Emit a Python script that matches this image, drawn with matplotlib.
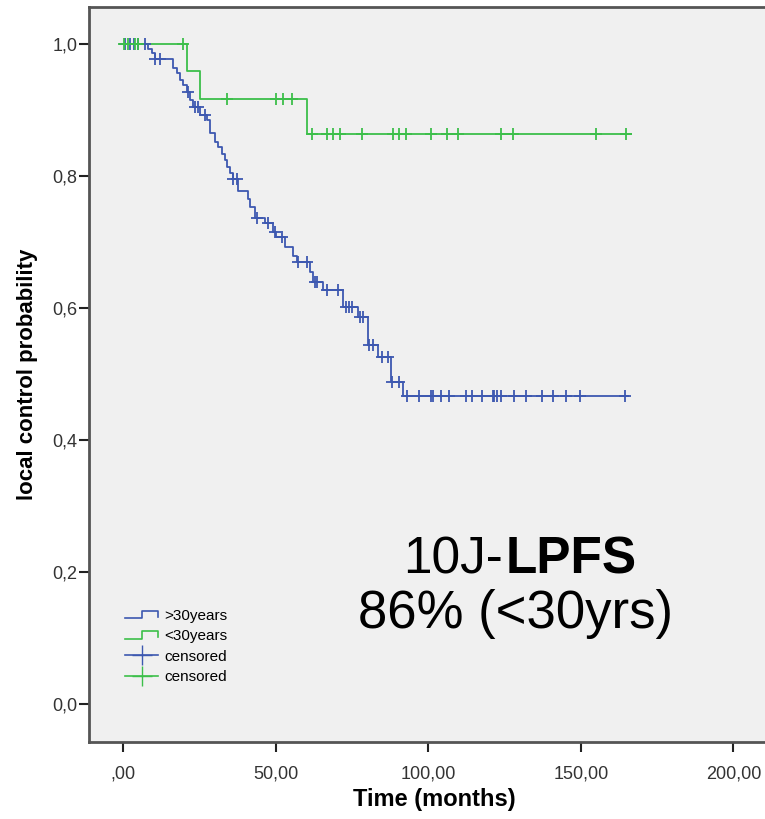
import numpy as np
from matplotlib import pyplot as plt
from matplotlib.lines import Line2D
from matplotlib.legend_handler import HandlerBase

# event times (months) and survival after each event
old_times = [8.1, 9.2, 10.3, 16.3, 17.6, 18.5, 19.6, 20.7, 21.8, 22.9, 25.1, 27.3,
             28.4, 30.0, 31.1, 32.2, 33.3, 33.8, 34.9, 35.9, 37.6, 40.8, 41.5, 43.1,
             46.4, 49.1, 50.0, 53.0, 55.6, 56.8, 61.1, 62.2, 65.4, 72.1, 76.9, 80.1,
             83.4, 87.6, 91.5]
old_surv = [0.993, 0.986, 0.978, 0.963, 0.956, 0.945, 0.938, 0.928, 0.915, 0.905, 0.892, 0.885,
            0.865, 0.852, 0.844, 0.834, 0.824, 0.814, 0.804, 0.795, 0.777, 0.765, 0.753, 0.736,
            0.729, 0.715, 0.708, 0.693, 0.679, 0.670, 0.655, 0.639, 0.627, 0.602, 0.587, 0.544,
            0.526, 0.488, 0.466]
old_cens = [0.5, 2.1, 3.4, 4.8, 7.0, 10.3, 12.0, 21.2, 23.4, 24.5, 26.7, 36.0, 37.1,
            43.9, 47.4, 49.6, 51.9, 57.3, 60.1, 62.8, 63.5, 66.6, 70.4, 72.9, 73.9,
            75.0, 77.5, 78.4, 80.6, 81.7, 84.7, 86.8, 87.9, 90.3, 92.9, 97.0, 100.7,
            101.4, 104.1, 106.7, 112.3, 114.3, 117.4, 121.0, 121.6, 122.6, 123.9,
            128.1, 131.9, 137.1, 140.9, 145.0, 149.7, 164.4]
old_end = 165.5

young_times = [20.9, 25.1, 60.1]
young_surv = [0.959, 0.917, 0.863]
young_cens = [0.3, 1.6, 3.8, 4.9, 19.4, 34.0, 49.9, 52.2, 55.1, 61.7, 66.7, 68.6,
              71.1, 78.3, 88.4, 90.3, 92.6, 100.7, 106.2, 109.6, 123.7, 127.8,
              154.8, 164.8]
young_end = 166.4

blue = '#3d58b0'
green = '#3cbf4a'

plt.rcParams['font.family'] = ['Liberation Sans', 'DejaVu Sans']


def km_curve(ax, times, surv, cens, t_end, color):
    t = np.concatenate([[0.0], times, [t_end]])
    s = np.concatenate([[1.0], surv, [surv[-1]]])
    ax.step(t, s, where='post', color=color, lw=1.3, zorder=3)
    idx = np.searchsorted(times, cens, side='right')
    s_c = np.concatenate([[1.0], surv])[idx]
    ax.plot(cens, s_c, ls='none', marker='+', ms=9, mew=1.3, color=color, zorder=4)


class StepHandler(HandlerBase):
    def create_artists(self, legend, orig_handle, xdescent, ydescent,
                       width, height, fontsize, trans):
        xs = np.array([0, 0.5, 0.5, 1.0, 1.0]) * width - xdescent
        ys = np.array([0.15, 0.15, 0.85, 0.85, 0.3]) * height - ydescent
        ln = Line2D(xs, ys, color=orig_handle.get_color(), lw=1.2, transform=trans)
        return [ln]


fig = plt.figure(figsize=(7.65, 8.19), dpi=100)
ax = fig.add_axes([0.1163, 0.094, 0.9023, 0.8974])
ax.set_facecolor('#f0f0f0')

km_curve(ax, old_times, old_surv, old_cens, old_end, blue)
km_curve(ax, young_times, young_surv, young_cens, young_end, green)

ax.set_xlim(-11.31, 215)
ax.set_ylim(-0.0576, 1.056)

ax.set_xticks([0, 50, 100, 150, 200])
ax.set_xticklabels([',00', '50,00', '100,00', '150,00', '200,00'])
ax.set_yticks([0, 0.2, 0.4, 0.6, 0.8, 1.0])
ax.set_yticklabels(['0,0', '0,2', '0,4', '0,6', '0,8', '1,0'])
ax.tick_params(direction='out', length=7, width=1.5, color='#222222',
               labelcolor='#333333', labelsize=13)
ax.tick_params(axis='y', pad=1.5)
ax.tick_params(axis='x', pad=10)
for sp in ax.spines.values():
    sp.set_color('#555555')
    sp.set_linewidth(2)

ax.set_xlabel('Time (months)', fontsize=17, fontweight='bold', labelpad=4)
ax.set_ylabel('local control probability', fontsize=16, fontweight='bold', labelpad=10)

h_old = Line2D([], [], color=blue)
h_young = Line2D([], [], color=green)
h_c_old = Line2D([], [], color=blue, marker='+', ms=14, lw=1.2, ls='-')
h_c_young = Line2D([], [], color=green, marker='+', ms=14, lw=1.2, ls='-')
leg = ax.legend([h_old, h_young, h_c_old, h_c_young],
                ['>30years', '<30years', 'censored', 'censored'],
                handler_map={h_old: StepHandler(), h_young: StepHandler()},
                loc='upper left', bbox_to_anchor=(0.052, 0.181), frameon=False,
                fontsize=11, handlelength=2.2, handletextpad=0.4,
                labelspacing=0.42, borderpad=0, borderaxespad=0)

fig.text(503 / 765, 1 - 573 / 819, '10J-', ha='right', va='baseline', fontsize=37)
fig.text(506 / 765, 1 - 573 / 819, 'LPFS', ha='left', va='baseline',
         fontsize=37, fontweight='bold')
fig.text(515 / 765, 1 - 628 / 819, '86% (<30yrs)', ha='center', va='baseline',
         fontsize=38)

fig.savefig('out.png', dpi=100)
